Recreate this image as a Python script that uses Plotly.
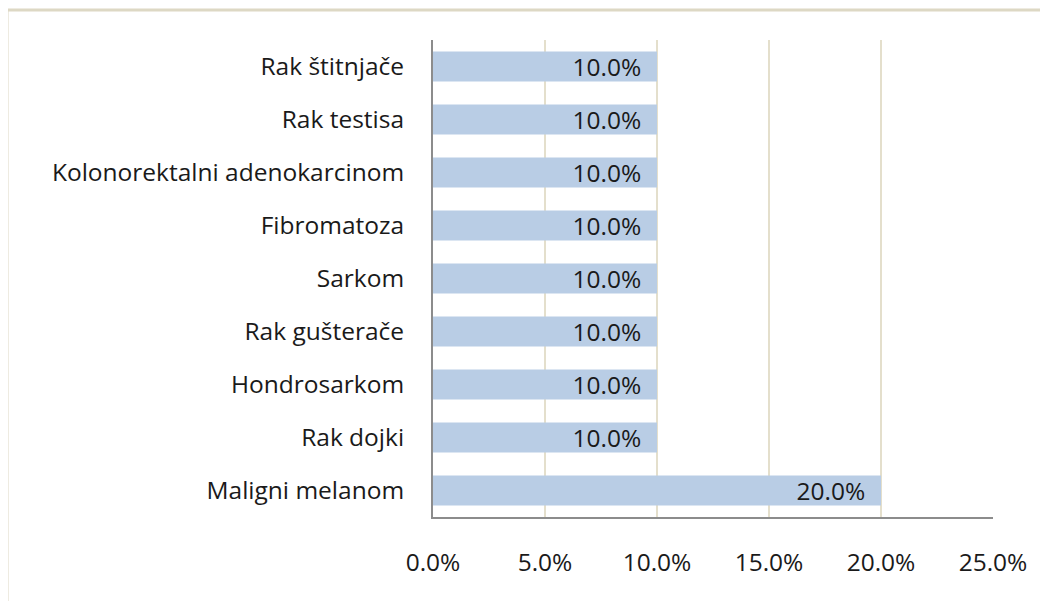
import plotly.graph_objects as go

# categories listed bottom-to-top, as plotly draws them
categories = [
    "Maligni melanom",
    "Rak dojki",
    "Hondrosarkom",
    "Rak gušterače",
    "Sarkom",
    "Fibromatoza",
    "Kolonorektalni adenokarcinom",
    "Rak testisa",
    "Rak štitnjače",
]
shares = [0.20, 0.10, 0.10, 0.10, 0.10, 0.10, 0.10, 0.10, 0.10]
x_ticks = [0, 0.05, 0.10, 0.15, 0.20, 0.25]

font_family = "'Open Sans', Lato, sans-serif"
font_size = 24.5

fig = go.Figure()
fig.add_trace(go.Bar(
    x=shares,
    y=categories,
    orientation="h",
    marker=dict(color="#B9CDE5", line=dict(width=0)),
    text=[f"{v * 100:.1f}%  " for v in shares],
    texttemplate="%{text}",
    textposition="inside",
    insidetextanchor="end",
    textfont=dict(family=font_family, size=font_size, color="#1a1a1a"),
    cliponaxis=False,
    hoverinfo="skip",
))

# the page body has an 8px margin, so the figure box is shifted by that
fig.update_layout(
    width=1048,
    height=601,
    margin=dict(l=425, r=63, t=32, b=92),
    paper_bgcolor="white",
    plot_bgcolor="white",
    bargap=0.434,
    showlegend=False,
    uniformtext=dict(minsize=font_size, mode="show"),
    font=dict(family=font_family, size=font_size, color="#1a1a1a"),
    xaxis=dict(
        range=[0, 0.25],
        tickvals=x_ticks,
        ticktext=[f"{v * 100:.1f}%" for v in x_ticks],
        showgrid=True,
        gridcolor="#E4DFCC",
        gridwidth=1.5,
        zeroline=False,
        showline=True,
        linecolor="#8C8C8C",
        linewidth=2,
        ticks="",
        ticklabelstandoff=23,
        fixedrange=True,
    ),
    yaxis=dict(
        showgrid=False,
        zeroline=False,
        showline=True,
        linecolor="#8C8C8C",
        linewidth=2,
        ticks="",
        ticklabelstandoff=22,
        fixedrange=True,
    ),
    shapes=[
        # chart frame (only top and left edges are visible in the crop)
        dict(type="rect", xref="paper", yref="paper",
             x0=-0.7607, x1=1.2, y0=-0.3, y1=1.0629,
             line=dict(color="#DDD8C4", width=3), layer="below"),
    ],
)

fig.write_html("out.html")
